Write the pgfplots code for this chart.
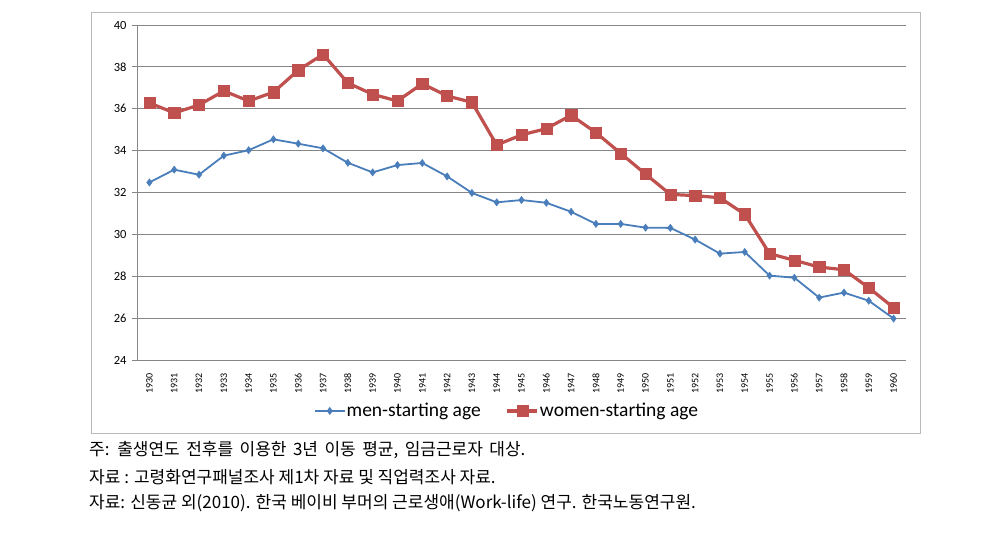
\documentclass[border=0pt]{standalone}
\usepackage{pgfplots}
\pgfplotsset{compat=1.18}
\usepackage{fontspec}
\setmainfont{Carlito}
\newfontfamily\kr{Noto Sans CJK KR}
\definecolor{menblue}{HTML}{4A7EBB}
\definecolor{womred}{HTML}{C0504D}
\definecolor{gridgray}{HTML}{868686}
\pgfplotstableread{
x men women
0 32.48 36.28
1 33.09 35.80
2 32.85 36.18
3 33.76 36.85
4 34.02 36.37
5 34.54 36.79
6 34.33 37.84
7 34.11 38.60
8 33.42 37.23
9 32.96 36.69
10 33.31 36.37
11 33.41 37.20
12 32.77 36.61
13 31.98 36.31
14 31.53 34.27
15 31.64 34.75
16 31.51 35.05
17 31.08 35.69
18 30.50 34.86
19 30.50 33.87
20 30.32 32.88
21 30.31 31.91
22 29.75 31.85
23 29.08 31.75
24 29.16 30.96
25 28.03 29.08
26 27.93 28.76
27 26.98 28.44
28 27.22 28.31
29 26.83 27.45
30 25.98 26.50
}\datatable
\begin{document}
\begin{tikzpicture}[x=1pt,y=1pt]
\path[use as bounding box] (0,0) rectangle (999,542);
\draw[gray!55, line width=0.8pt] (91,530) rectangle (920,109);
\begin{axis}[
  at={(137pt,182pt)}, anchor=south west,
  scale only axis, width=769pt, height=335pt,
  xmin=-0.5, xmax=30.5, ymin=24, ymax=40,
  axis x line*=bottom, axis y line*=left,
  axis line style={gridgray, line width=0.8pt},
  xtick={0,...,30},
  xticklabels={1930,1931,1932,1933,1934,1935,1936,1937,1938,1939,1940,1941,1942,1943,1944,1945,1946,1947,1948,1949,1950,1951,1952,1953,1954,1955,1956,1957,1958,1959,1960},
  x tick label style={rotate=90, anchor=east, font=\fontsize{10}{12}\selectfont, inner sep=2pt},
  xticklabel shift=6pt,
  major x tick style={draw=none},
  extra x ticks={-0.5,0.5,...,30.5},
  extra x tick labels={},
  extra x tick style={major tick length=5pt, tick style={gridgray, line width=0.8pt}, grid=none},
  ytick={24,26,...,40},
  y tick label style={font=\fontsize{12.5}{14}\selectfont},
  yticklabel style={/pgf/number format/assume math mode=true},
  yticklabel shift=2pt,
  tick align=outside,
  major tick length=5pt,
  tick style={gridgray, line width=0.8pt},
  ymajorgrids, grid style={gridgray, line width=0.8pt},
  legend style={at={(0.4805,-0.152)}, anchor=center, draw=none, fill=none,
    legend columns=2, font=\fontsize{19.5}{22}\selectfont,
    nodes={inner xsep=1pt},
    /tikz/every even column/.append style={column sep=24pt}},
  legend image code/.code={
    \draw[#1] (0pt,0pt) -- (30pt,0pt);
    \draw[#1, mark repeat=2, mark phase=2] plot coordinates {(0pt,0pt) (15pt,0pt) (30pt,0pt)};
  },
  clip=false,
]
\addplot[menblue, line width=1.8pt, mark=diamond*, mark size=3.6pt, mark options={solid, fill=menblue, line width=0.5pt}]
  table[x=x, y=men] {\datatable};
\addlegendentry{men-starting age}
\addplot[womred, line width=3.2pt, mark=square*, mark size=5.6pt, mark options={solid, fill=womred, line width=0.4pt}]
  table[x=x, y=women] {\datatable};
\addlegendentry{women-starting age}
\end{axis}
\node[anchor=west, inner sep=0pt] at (89,92) {\kr\fontsize{17}{19}\selectfont\spaceskip=0.38em plus 0.1em 주: 출생연도 전후를 이용한 3년 이동 평균, 임금근로자 대상.};
\node[anchor=west, inner sep=0pt] at (89,65) {\kr\fontsize{17}{19}\selectfont 자료 : 고령화연구패널조사 제1차 자료 및 직업력조사 자료.};
\node[anchor=west, inner sep=0pt] at (89,39) {\kr\fontsize{17}{19}\selectfont 자료: 신동균 외(2010). 한국 베이비 부머의 근로생애(Work-life) 연구. 한국노동연구원.};
\end{tikzpicture}
\end{document}
